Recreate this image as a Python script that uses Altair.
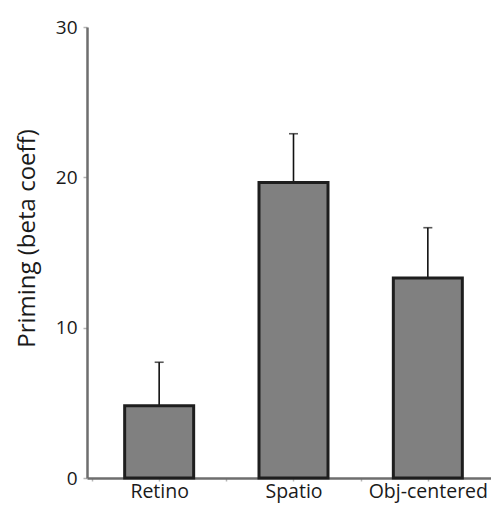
import altair as alt
import pandas as pd

categories = ["Retino", "Spatio", "Obj-centered"]
positions = [0, 1, 2]
means = [4.8, 19.65, 13.3]
upper = [7.7, 22.9, 16.65]

df = pd.DataFrame({"cat": categories, "pos": positions, "mean": means, "upper": upper})

label_expr = ("datum.value == 0 ? 'Retino' : datum.value == 1 ? 'Spatio' : "
              "datum.value == 2 ? 'Obj-centered' : ''")

x = alt.X("pos:Q",
          scale=alt.Scale(domain=[-0.5, 2.5], nice=False, zero=False),
          axis=alt.Axis(title=None, values=[-0.5, 0, 0.5, 1, 1.5, 2, 2.5],
                        labelExpr=label_expr, grid=False, labelOverlap=False,
                        labelFlush=False, domainColor="#6e6e6e", domainWidth=2.5,
                        tickColor="#b5b5b5", tickSize=3, tickWidth=1.5,
                        labelFont="Open Sans", labelFontSize=19.5, labelColor="#1a1a1a",
                        labelPadding=1))
y = alt.Y("mean:Q",
          scale=alt.Scale(domain=[0, 30], nice=False),
          axis=alt.Axis(title="Priming (beta coeff)", values=[0, 10, 20, 30], grid=False,
                        domainColor="#6e6e6e", domainWidth=2.5,
                        tickColor="#b5b5b5", tickSize=4, tickWidth=1.5,
                        labelFont="Open Sans", labelFontSize=19, labelColor="#1a1a1a",
                        labelPadding=6,
                        titleFont="Open Sans", titleFontSize=24, titleFontWeight="normal",
                        titleColor="#1a1a1a", titleX=-60, titleY=211,
                        titleBaseline="middle", titleAlign="center", titleAngle=270))

base = alt.Chart(df)

rules = base.mark_rule(color="#111111", strokeWidth=1.6).encode(x=x, y=y, y2="upper:Q")
caps = base.mark_tick(color="#111111", thickness=1.6, size=9, orient="horizontal").encode(
    x=x, y=alt.Y("upper:Q", scale=alt.Scale(domain=[0, 30], nice=False)))
bars = base.mark_bar(size=69, fill="#808080", stroke="#1e1e1e", strokeWidth=3).encode(x=x, y=y)

chart = alt.layer(rules, caps, bars).properties(
    width=413, height=451,
    autosize=alt.AutoSizeParams(type="none"),
    padding={"left": 79, "top": 19, "right": -9, "bottom": 25},
).configure_view(stroke=None)

chart.save("out.html", embed_options={"renderer": "svg", "actions": False})
